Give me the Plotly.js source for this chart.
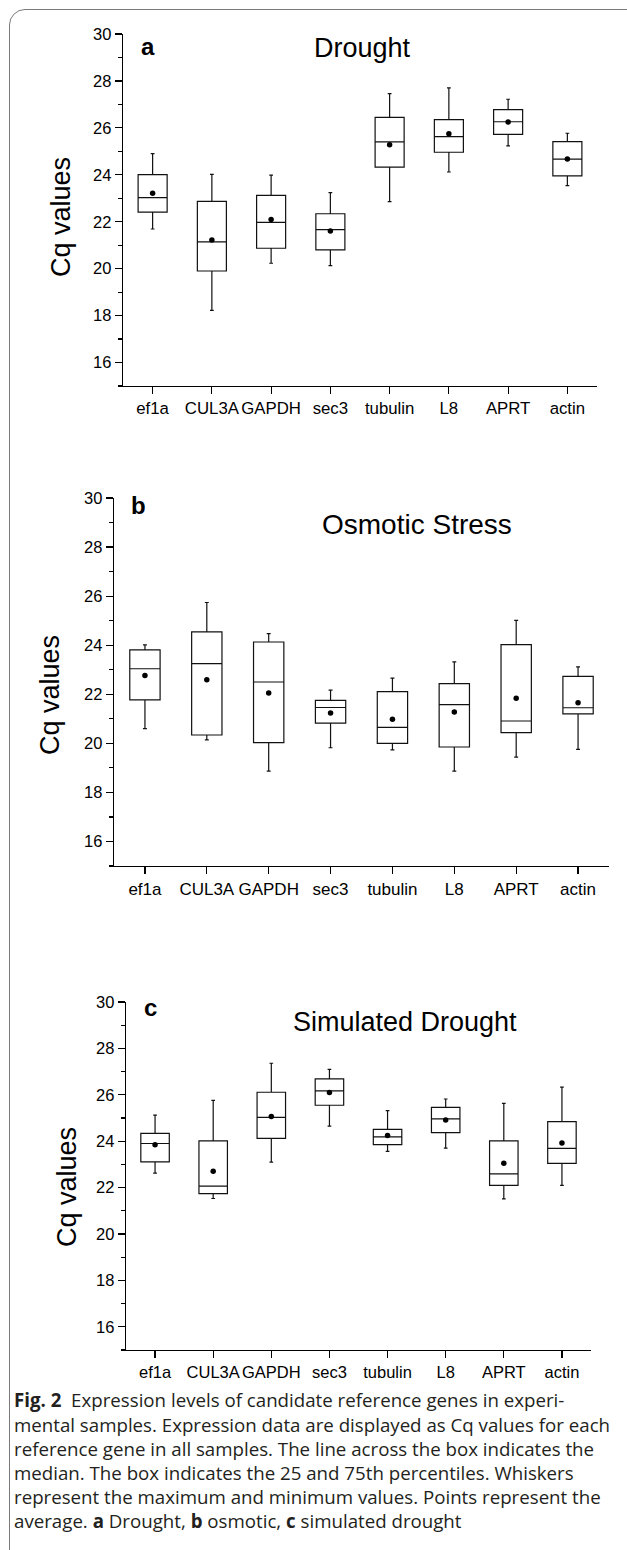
<!DOCTYPE html>
<html>
<head>
<meta charset="utf-8">
<script src="https://cdn.plot.ly/plotly-3.0.1.min.js"></script>
<style>
  html, body { margin: 0; padding: 0; background: #fff; overflow: hidden; }
  #wrap { position: relative; width: 627px; height: 1550px; overflow: hidden; }
  #frame { position: absolute; left: 9px; top: 9px; width: 640px; height: 1560px;
           border: 1.5px solid #7a7a7a; border-radius: 16px; box-sizing: border-box; pointer-events: none; }
  #chart { position: absolute; left: 0; top: 0; width: 627px; height: 1550px; }
</style>
</head>
<body>
<div id="wrap">
  <div id="chart"></div>
  <div id="frame"></div>
</div>
<script>
// ---------- data ----------
const categories = ['ef1a', 'CUL3A', 'GAPDH', 'sec3', 'tubulin', 'L8', 'APRT', 'actin'];

// (a) Drought
const droughtMin    = [21.69, 18.22, 20.23, 20.13, 22.86, 24.12, 25.23, 23.54];
const droughtQ1     = [22.41, 19.90, 20.87, 20.80, 24.33, 24.96, 25.72, 23.95];
const droughtMedian = [23.03, 21.14, 21.97, 21.66, 25.40, 25.63, 26.26, 24.67];
const droughtQ3     = [24.01, 22.87, 23.12, 22.34, 26.45, 26.35, 26.78, 25.41];
const droughtMax    = [24.90, 24.02, 23.99, 23.24, 27.46, 27.70, 27.22, 25.77];
const droughtMean   = [23.21, 21.22, 22.09, 21.60, 25.28, 25.75, 26.25, 24.67];

// (b) Osmotic stress
const osmoticMin    = [20.60, 20.14, 18.87, 19.82, 19.73, 18.87, 19.44, 19.75];
const osmoticQ1     = [21.77, 20.34, 20.03, 20.82, 20.00, 19.85, 20.44, 21.20];
const osmoticMedian = [23.04, 23.25, 22.50, 21.46, 20.65, 21.58, 20.91, 21.45];
const osmoticQ3     = [23.81, 24.54, 24.13, 21.75, 22.11, 22.43, 24.02, 22.73];
const osmoticMax    = [24.01, 25.74, 24.47, 22.17, 22.66, 23.32, 25.01, 23.12];
const osmoticMean   = [22.76, 22.59, 22.05, 21.24, 20.98, 21.28, 21.84, 21.65];

// (c) Simulated drought
const simulatedMin    = [22.62, 21.53, 23.10, 24.65, 23.56, 23.70, 21.51, 22.10];
const simulatedQ1     = [23.11, 21.74, 24.12, 25.55, 23.85, 24.37, 22.10, 23.04];
const simulatedMedian = [23.90, 22.06, 25.03, 26.17, 24.19, 24.96, 22.59, 23.69];
const simulatedQ3     = [24.34, 24.01, 26.11, 26.69, 24.51, 25.46, 24.01, 24.84];
const simulatedMax    = [25.12, 25.76, 27.36, 27.10, 25.32, 25.82, 25.63, 26.33];
const simulatedMean   = [23.85, 22.71, 25.06, 26.10, 24.25, 24.91, 23.05, 23.92];

const panelLetters = ['a', 'b', 'c'];
const panelTitles = ['Drought', 'Osmotic Stress', 'Simulated Drought'];
const yAxisTitle = 'Cq values';

const captionLines = [
  '<b>Fig. 2</b>\u00a0\u00a0Expression levels of candidate reference genes in experi-',
  'mental samples. Expression data are displayed as Cq values for each',
  'reference gene in all samples. The line across the box indicates the',
  'median. The box indicates the 25 and 75th percentiles. Whiskers',
  'represent the maximum and minimum values. Points represent the',
  'average. <b>a</b> Drought, <b>b</b> osmotic, <b>c</b> simulated drought'
];

// ---------- layout helpers ----------
const W = 627, H = 1550;
const px = x => x / W;
const py = y => 1 - y / H;

const panels = [
  { stats: [droughtMin, droughtQ1, droughtMedian, droughtQ3, droughtMax, droughtMean],
    box: [123, 597, 34, 386], letter: [148, 47], title: [362, 48, 27], ytitle: [61, 217], tick: 16.8 },
  { stats: [osmoticMin, osmoticQ1, osmoticMedian, osmoticQ3, osmoticMax, osmoticMean],
    box: [114, 609, 498, 866], letter: [138, 505], title: [417, 525, 28], ytitle: [50, 695], tick: 17 },
  { stats: [simulatedMin, simulatedQ1, simulatedMedian, simulatedQ3, simulatedMax, simulatedMean],
    box: [126, 591, 1002, 1350], letter: [150, 1007], title: [405, 1022, 27], ytitle: [67, 1187], tick: 16.5 }
];

const FONT = '"Liberation Sans", Arial, Helvetica, sans-serif';
const traces = [];
const layout = {
  width: W, height: H,
  margin: { l: 0, r: 0, t: 0, b: 0 },
  paper_bgcolor: '#fff', plot_bgcolor: 'rgba(0,0,0,0)',
  showlegend: false,
  font: { family: FONT, color: '#000', size: 16 },
  annotations: []
};

panels.forEach((p, i) => {
  const n = i === 0 ? '' : String(i + 1);
  const [mn, q1, med, q3, mx, mean] = p.stats;
  traces.push({
    type: 'box', x: categories, q1: q1, median: med, q3: q3,
    lowerfence: mn, upperfence: mx,
    xaxis: 'x' + n, yaxis: 'y' + n,
    boxpoints: false, whiskerwidth: 0.13,
    fillcolor: 'rgba(255,255,255,0)',
    line: { color: '#111', width: 1.2 },
    hoverinfo: 'skip'
  });
  traces.push({
    type: 'scatter', mode: 'markers', x: categories, y: mean,
    xaxis: 'x' + n, yaxis: 'y' + n,
    marker: { color: '#000', size: 5.5 },
    hoverinfo: 'skip'
  });
  const [x0, x1, y0, y1] = p.box;
  layout['xaxis' + n] = {
    domain: [px(x0), px(x1)], anchor: 'y' + n,
    type: 'category', range: [-0.5, 7.5], tickangle: 0,
    showline: true, linecolor: '#000', linewidth: 1.3,
    ticks: 'outside', ticklen: 7, tickwidth: 1.2, tickcolor: '#000',
    tickfont: { family: FONT, size: p.tick, color: '#000' },
    showgrid: false, zeroline: false, fixedrange: true
  };
  layout['yaxis' + n] = {
    domain: [py(y1), py(y0)], anchor: 'x' + n,
    range: [15, 30], tick0: 0, dtick: 2,
    showline: true, linecolor: '#000', linewidth: 1.3,
    ticks: 'outside', ticklen: 7, tickwidth: 1.2, tickcolor: '#000',
    minor: { dtick: 1, ticks: 'outside', ticklen: 3.5, tickwidth: 1.2, tickcolor: '#000', showgrid: false },
    tickfont: { family: FONT, size: 16.5, color: '#000' },
    showgrid: false, zeroline: false, fixedrange: true
  };
  layout.annotations.push({
    xref: 'paper', yref: 'paper', x: px(p.letter[0]), y: py(p.letter[1]),
    xanchor: 'center', yanchor: 'middle', showarrow: false,
    text: '<b>' + panelLetters[i] + '</b>', font: { family: FONT, size: 24, color: '#000' }
  });
  layout.annotations.push({
    xref: 'paper', yref: 'paper', x: px(p.title[0]), y: py(p.title[1]),
    xanchor: 'center', yanchor: 'middle', showarrow: false,
    text: panelTitles[i], font: { family: FONT, size: p.title[2], color: '#000' }
  });
  layout.annotations.push({
    xref: 'paper', yref: 'paper', x: px(p.ytitle[0]), y: py(p.ytitle[1]),
    xanchor: 'center', yanchor: 'middle', showarrow: false, textangle: -90,
    text: yAxisTitle, font: { family: FONT, size: 27, color: '#000' }
  });
});

const captionY = [1399, 1424, 1448, 1472, 1496, 1520];
captionLines.forEach((t, k) => {
  layout.annotations.push({
    xref: 'paper', yref: 'paper', x: px(12), y: py(captionY[k]),
    xanchor: 'left', yanchor: 'middle', showarrow: false, align: 'left',
    text: t, font: { family: '"Open Sans", "Noto Sans", sans-serif', size: 18.7, color: '#231f20' }
  });
});

Plotly.newPlot('chart', traces, layout, { staticPlot: true, displayModeBar: false });
</script>
</body>
</html>
